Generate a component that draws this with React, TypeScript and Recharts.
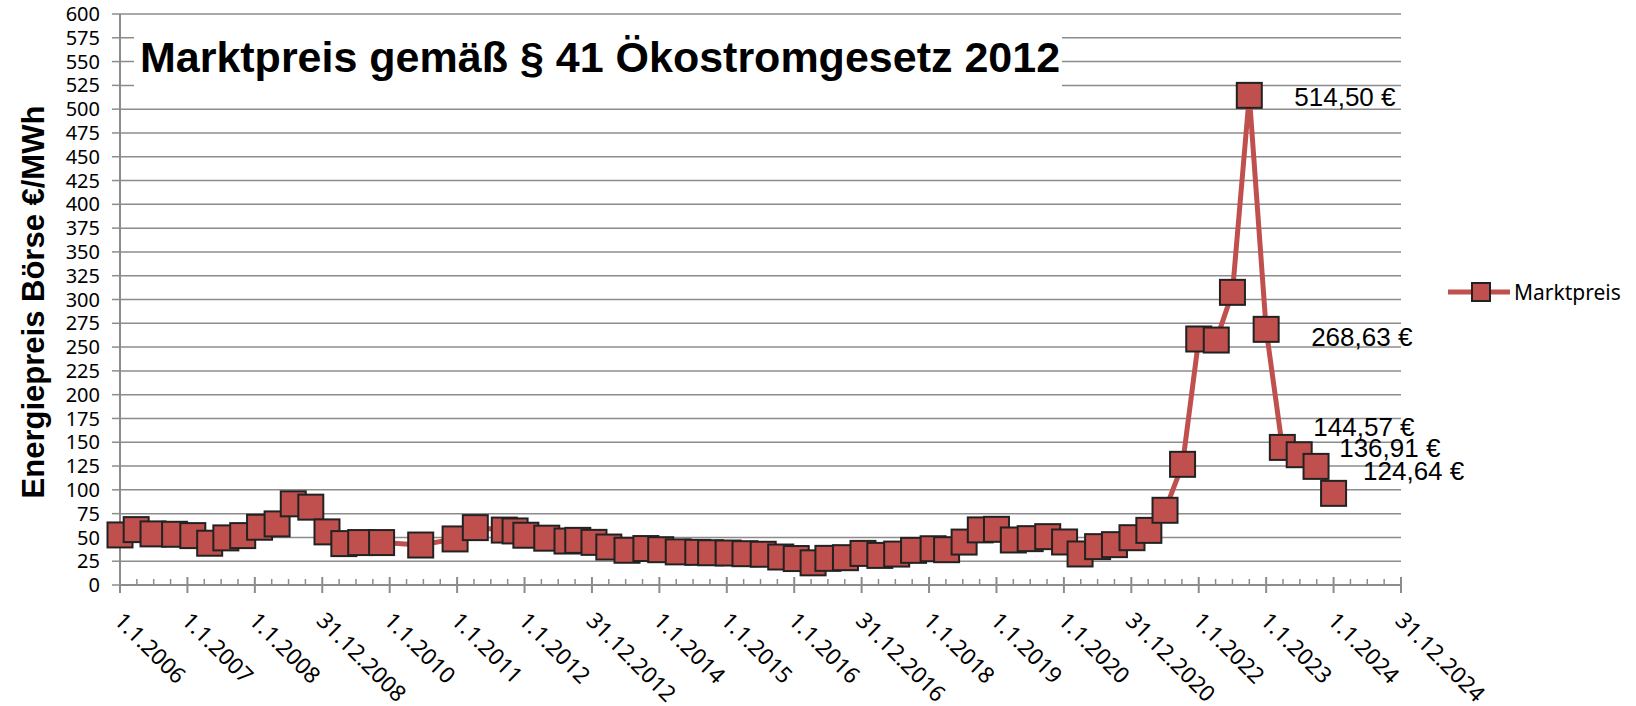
import React from 'react';
import { LineChart, Line, XAxis, YAxis, CartesianGrid, LabelList } from 'recharts';

// Time position of each observation (fractional years, 1 unit = 365.25 days from 1.1.2006)
const dates = [
  2006.0, 2006.24, 2006.49, 2006.81, 2007.08, 2007.33, 2007.57, 2007.82,
  2008.07, 2008.33, 2008.57, 2008.83, 2009.07, 2009.32, 2009.57, 2009.88,
  2010.46, 2010.97, 2011.27, 2011.7, 2011.86,
  2012.02, 2012.33, 2012.63, 2012.79, 2013.03, 2013.25, 2013.52, 2013.8,
  2014.02, 2014.28, 2014.57, 2014.76, 2015.02, 2015.27, 2015.54, 2015.8,
  2016.03, 2016.28, 2016.5, 2016.76, 2017.02, 2017.27, 2017.52, 2017.77,
  2018.06, 2018.26, 2018.52, 2018.76, 2019.0, 2019.25, 2019.5, 2019.76,
  2020.01, 2020.24, 2020.5, 2020.75, 2021.01, 2021.26, 2021.5, 2021.76,
  2022.0, 2022.26, 2022.5, 2022.75, 2023.0, 2023.24, 2023.49, 2023.74,
  2024.0,
];

// Marktpreis in €/MWh
const prices = [
  52.6, 58.2, 53.7, 53.3, 51.9, 43.9, 49.5, 51.9,
  60.7, 64.2, 85.3, 81.8, 55.8, 43.5, 44.6, 44.6,
  42.0, 48.4, 60.3, 57.7, 56.8,
  52.3, 49.2, 46.2, 46.9, 44.8, 39.9, 36.5, 38.3,
  37.1, 34.8, 34.3, 33.9, 33.6, 32.9, 32.3, 29.4,
  27.8, 23.3, 28.0, 28.7, 33.2, 31.1, 32.5, 36.4,
  38.1, 37.1, 45.1, 57.9, 58.5, 47.3, 48.7, 50.8,
  45.2, 32.6, 40.3, 42.4, 49.7, 57.4, 78.5, 126.8,
  258.5, 257.4, 307.5, 514.5, 268.63, 144.57, 136.91, 124.64,
  96.3,
];

// Data labels shown in the chart
const labelDates = [2022.75, 2023.0, 2023.24, 2023.49, 2023.74];
const labelTexts = ['514,50 €', '268,63 €', '144,57 €', '136,91 €', '124,64 €'];

// Axis tick labels
const majorTickLabels = [
  '1.1.2006', '1.1.2007', '1.1.2008', '31.12.2008', '1.1.2010', '1.1.2011',
  '1.1.2012', '31.12.2012', '1.1.2014', '1.1.2015', '1.1.2016', '31.12.2016',
  '1.1.2018', '1.1.2019', '1.1.2020', '31.12.2020', '1.1.2022', '1.1.2023',
  '1.1.2024', '31.12.2024',
];
const yTicks = [
  0, 25, 50, 75, 100, 125, 150, 175, 200, 225, 250, 275, 300,
  325, 350, 375, 400, 425, 450, 475, 500, 525, 550, 575, 600,
];

const TITLE = 'Marktpreis gemäß § 41 Ökostromgesetz 2012';
const Y_TITLE = 'Energiepreis Börse €/MWh';
const SERIES = 'Marktpreis';

// label placement offsets (style only), one per labelled point
const labelOffsets = [
  { dx: 45, dy: 2 },
  { dx: 45, dy: 8 },
  { dx: 31, dy: -20 },
  { dx: 40, dy: -7 },
  { dx: 47, dy: 5 },
];

const START = 2006;
const quarterTicks = Array.from({ length: majorTickLabels.length * 4 - 3 }, (_, k) => START + k / 4);

const data = dates.map((t, i) => {
  const li = labelDates.indexOf(t);
  return { t, price: prices[i], label: li >= 0 ? labelTexts[li] : '' };
});

const RED = '#C0504D';
const GRID = '#8c8c8c';
const TICK_FONT = 'Noto Sans, Open Sans, sans-serif';
const ARIAL = 'Liberation Sans, Arial, sans-serif';

const SquareDot = (props: any) => {
  const { cx, cy, index } = props;
  if (cx == null || cy == null || isNaN(cx) || isNaN(cy)) return null;
  const s = 25;
  return (
    <rect key={`sq-${index}`} x={cx - s / 2} y={cy - s / 2} width={s} height={s}
      fill={RED} stroke="#222" strokeWidth={2} />
  );
};

const XTick = (props: any) => {
  const { x, y, payload } = props;
  const v = payload.value as number;
  const k = Math.round((v - START) * 4);
  const major = k % 4 === 0;
  const label = major ? majorTickLabels[k / 4] : null;
  const lx = x - 1;
  const ly = y + 31;
  return (
    <g>
      {major ? (
        <line x1={x} x2={x} y1={y - 8} y2={y + 8} stroke={GRID} strokeWidth={2} />
      ) : (
        <line x1={x} x2={x} y1={y - 6} y2={y} stroke={GRID} strokeWidth={1.5} />
      )}
      {label && (
        <text x={lx} y={ly} transform={`rotate(45 ${lx} ${ly})`} dominantBaseline="central"
          textAnchor="start" fontSize={22.5} fontFamily={TICK_FONT} fill="#000">
          {label}
        </text>
      )}
    </g>
  );
};

const PriceLabel = (props: any) => {
  const { value, viewBox } = props;
  if (!value) return null;
  const x = props.x ?? viewBox?.x;
  const y = props.y ?? viewBox?.y;
  if (x == null || y == null) return null;
  const li = labelTexts.indexOf(value);
  const off = labelOffsets[li] || { dx: 40, dy: 0 };
  return (
    <text x={x + off.dx} y={y + off.dy} dominantBaseline="central" textAnchor="start"
      fontSize={26} fontFamily={ARIAL} fill="#000">
      {value}
    </text>
  );
};

export default function App() {
  return (
    <div style={{ position: 'absolute', left: 0, top: 0, width: 1636, height: 706, background: '#fff' }}>
      <LineChart width={1636} height={706} data={data}
        margin={{ top: 14, right: 235, bottom: 0, left: 0 }}>
        <CartesianGrid vertical={false} stroke={GRID} strokeWidth={1.5} />
        <XAxis dataKey="t" type="number" domain={[START, START + majorTickLabels.length - 1]}
          ticks={quarterTicks} interval={0} height={121} tickLine={false} tickSize={0} tickMargin={0}
          axisLine={{ stroke: GRID, strokeWidth: 2 }} tick={<XTick />} />
        <YAxis type="number" domain={[0, 600]} ticks={yTicks} interval={0} width={120}
          tickSize={8} tickMargin={12}
          axisLine={{ stroke: GRID, strokeWidth: 2 }} tickLine={{ stroke: GRID, strokeWidth: 1.5 }}
          tick={{ fontSize: 20, fontFamily: TICK_FONT, fill: '#000' }} />
        <Line dataKey="price" stroke={RED} strokeWidth={5} dot={<SquareDot />} activeDot={false}
          isAnimationActive={false} type="linear">
          <LabelList dataKey="label" content={<PriceLabel />} />
        </Line>
      </LineChart>
      <svg width={1636} height={706} style={{ position: 'absolute', left: 0, top: 0, pointerEvents: 'none' }}>
        <rect x={134} y={25} width={928} height={73} fill="#fff" />
        <text x={600} y={72} textAnchor="middle" fontSize={43} fontWeight="bold" fontFamily={ARIAL} fill="#000">
          {TITLE}
        </text>
        <text x={33} y={302} transform="rotate(-90 33 302)" textAnchor="middle" dominantBaseline="central"
          fontSize={31} fontWeight="bold" fontFamily={ARIAL} fill="#000">
          {Y_TITLE}
        </text>
        <line x1={1448} x2={1510} y1={292} y2={292} stroke={RED} strokeWidth={5} />
        <rect x={1472} y={283} width={18} height={18} fill={RED} stroke="#222" strokeWidth={2} />
        <text x={1514} y={292} dominantBaseline="central" fontSize={21} fontFamily={TICK_FONT} fill="#000">
          {SERIES}
        </text>
      </svg>
    </div>
  );
}
